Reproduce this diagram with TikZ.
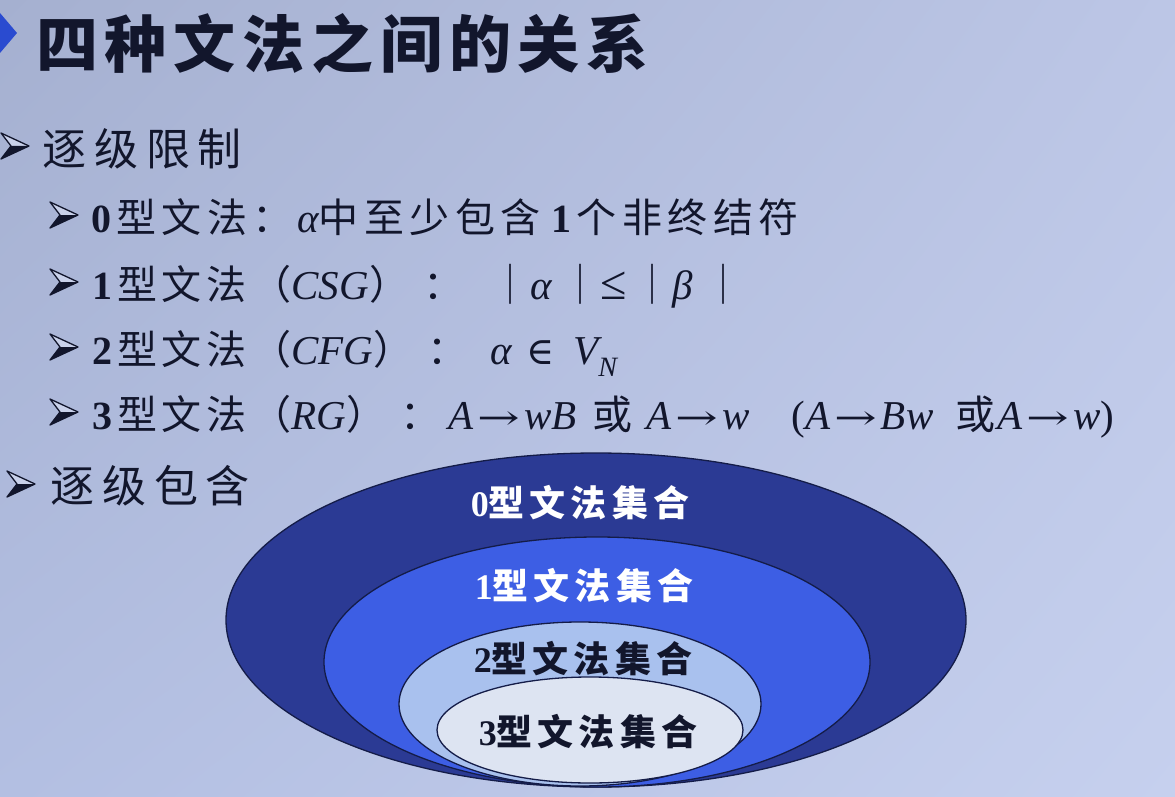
\documentclass[tikz,border=0pt]{standalone}
\usepackage{graphicx}
\usepackage{fontspec}
\usetikzlibrary{shapes.geometric,shadings}
\setmainfont{Liberation Serif}
\newfontfamily\cjk[LetterSpace=12]{Noto Sans CJK SC}
\newfontfamily\cjkw[LetterSpace=14]{Noto Sans CJK SC}
\newfontfamily\cjkh[LetterSpace=18]{Noto Sans CJK SC}
\newfontfamily\cjkt[LetterSpace=11]{Noto Sans CJK SC}
\newfontfamily\cjke[LetterSpace=14]{Noto Sans CJK SC}
\newfontfamily\symfont{DejaVu Serif}
\newcommand\lat[1]{{\fontsize{41}{46}\selectfont\itshape #1}}
\newcommand\rarr{\hspace{4pt}\scalebox{1.5}[1]{\symfont\fontsize{34}{40}\selectfont →}\hspace{4pt}}
\definecolor{ink}{HTML}{12162C}
\definecolor{bulletlight}{HTML}{C9D1EA}
\definecolor{titleblue}{HTML}{2A4BD0}
\definecolor{ezero}{HTML}{2B3A94}
\definecolor{eone}{HTML}{3D5EE4}
\definecolor{etwo}{HTML}{A9C1EE}
\definecolor{ethree}{HTML}{DDE4F2}
\definecolor{eline}{HTML}{141C48}
\definecolor{bgul}{HTML}{A5B0D0}
\definecolor{bgur}{HTML}{BCC6E6}
\definecolor{bgll}{HTML}{B3BFE2}
\definecolor{bglr}{HTML}{C6D0EE}
\begin{document}
\begin{tikzpicture}[x=1pt,y=-1pt,
  lineone/.style={anchor=base west, inner sep=0pt, text=ink, font=\fontsize{44}{50}\selectfont},
  linetwo/.style={anchor=base west, inner sep=0pt, text=ink, font=\fontsize{40}{46}\selectfont},
  setell/.style={ellipse, draw=eline, line width=1.3pt, inner sep=0pt},
  setlabel/.style={inner sep=0pt, font=\bfseries\fontsize{36}{40}\selectfont},
  arrowbullet/.pic={
    \fill[bulletlight] (0,0) -- (28,13) -- (10,13) -- cycle;
    \fill[ink] (10,13) -- (28,13) -- (0,26) -- cycle;
    \draw[ink, line width=1.3pt, line join=round] (0,0) -- (28,13) -- (0,26) -- (10,13) -- cycle;
  }
]
\useasboundingbox (0,0) rectangle (1175,797);
\shade[upper left=bgul, upper right=bgur, lower left=bgll, lower right=bglr] (0,0) rectangle (1175,797);

% title
\fill[titleblue] (0,13) -- (17,33) -- (0,53) -- cycle;
\node[anchor=base west, inner sep=0pt, text=ink, font=\cjkt\bfseries\fontsize{62}{70}\selectfont] (title) at (36,68) {四种文法之间的关系};

% level one: 逐级限制
\pic at (1,133) {arrowbullet};
\node[lineone] (h1) at (42,165) {\cjkh 逐级限制};

% level two lines
\pic at (50,202) {arrowbullet};
\node[linetwo] (l0) at (91,232) {\textbf{0}\hspace{5pt}{\cjkw 型文法：}\hspace{4pt}\lat{α}{\cjkw 中至少包含}\hspace{5pt}\textbf{1}\hspace{5pt}{\cjkw 个非终结符}};

\pic at (50,269) {arrowbullet};
\node[linetwo] (l1) at (92,299) {\textbf{1}\hspace{5pt}{\cjk 型文法（}\lat{CSG}{\cjk ）}\hspace{14pt}{\cjk ：}\hspace{27pt}{\cjk ｜}\lat{α}\hspace{9pt}{\cjk ｜}{\fontsize{48}{50}\selectfont ≤}\hspace{6pt}{\cjk ｜}\lat{β}\hspace{10pt}{\cjk ｜}};

\pic at (50,334) {arrowbullet};
\node[linetwo] (l2) at (92,364) {\textbf{2}\hspace{5pt}{\cjk 型文法（}\lat{CFG}{\cjk ）}\hspace{14pt}{\cjk ：}\hspace{23pt}\lat{α}\hspace{14pt}{\symfont\fontsize{38}{44}\selectfont ∈}\hspace{19pt}\lat{V}\raisebox{-0.3em}{\fontsize{28}{30}\selectfont\itshape N}};

\pic at (50,399) {arrowbullet};
\node[linetwo] (l3) at (92,429) {\textbf{3}\hspace{5pt}{\cjk 型文法（}\lat{RG}{\cjk ）}\hspace{14pt}{\cjk ：}\hspace{8pt}\lat{A}\rarr\lat{wB}\hspace{16pt}{\cjk 或}\hspace{14pt}\lat{A}\rarr\lat{w}\hspace{42pt}{\fontsize{41}{46}\selectfont (}\lat{A}\rarr\lat{Bw}\hspace{22pt}{\cjk 或}\hspace{2pt}\lat{A}\rarr\lat{w}{\fontsize{41}{46}\selectfont )}};

% level one: 逐级包含
\pic at (7,471) {arrowbullet};
\node[lineone] (h2) at (50,502) {\cjkh 逐级包含};

% nested sets
\node[setell, fill=ezero, minimum width=740pt, minimum height=334pt] (e0) at (596,620) {};
\node[setell, fill=eone, minimum width=546pt, minimum height=250pt] (e1) at (597,662) {};
\node[setell, fill=etwo, minimum width=362pt, minimum height=164pt] (e2) at (580,704) {};
\node[setell, fill=ethree, minimum width=306pt, minimum height=106pt] (e3) at (590,730) {};

\node[setlabel, text=white] (t0) at (580,503) {0{\cjke 型文法集合}};
\node[setlabel, text=white] (t1) at (584,586) {1{\cjke 型文法集合}};
\node[setlabel, text=ink] (t2) at (583,659) {2{\cjke 型文法集合}};
\node[setlabel, text=ink] (t3) at (588,732) {3{\cjke 型文法集合}};
\end{tikzpicture}
\end{document}
